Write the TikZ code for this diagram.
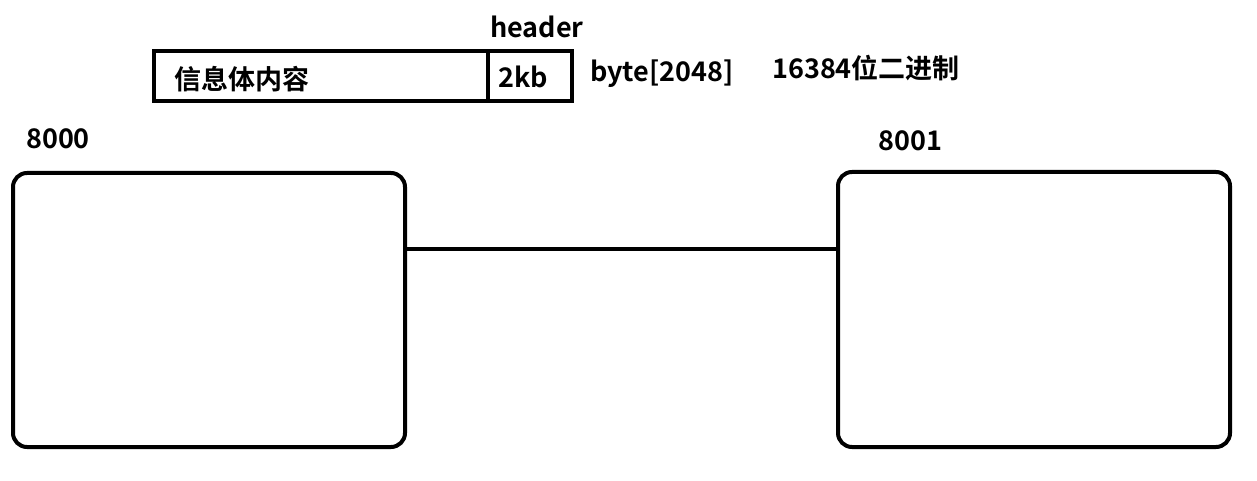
\documentclass[tikz,border=0pt]{standalone}
\usepackage{fontspec}
\setmainfont{Noto Sans CJK SC}[BoldFont={* Bold}]
\begin{document}
\begin{tikzpicture}[x=1pt,y=-1pt,
  lbl/.style={font=\bfseries\fontsize{27}{32}\selectfont, inner sep=0pt, anchor=west},
  srv/.style={draw, line width=4pt, rounded corners=14pt},
  cell/.style={draw, line width=4pt}]
\useasboundingbox (0,0) rectangle (1257,481);
\draw[cell] (154,51) rectangle (572,101);
\draw[line width=4pt] (488,51) -- (488,101);
\node[lbl] (body) at (174,79) {信息体内容};
\node[lbl] (kb) at (498,77) {2kb};
\node[lbl] (hdr) at (490,27) {header};
\node[lbl] (arr) at (590,74) {byte[2048]};
\node[lbl] (bits) at (772,68) {16384位二进制};
\node[lbl] (p0) at (26,139) {8000};
\node[lbl] (p1) at (878,141) {8001};
\node[srv, minimum width=392pt, minimum height=274pt, anchor=north west] (s0) at (11,171) {};
\node[srv, minimum width=392pt, minimum height=275pt, anchor=north west] (s1) at (836,170) {};
\draw[line width=4pt] (s0.east |- 0,248.5) -- (s1.west |- 0,248.5);
\end{tikzpicture}
\end{document}
